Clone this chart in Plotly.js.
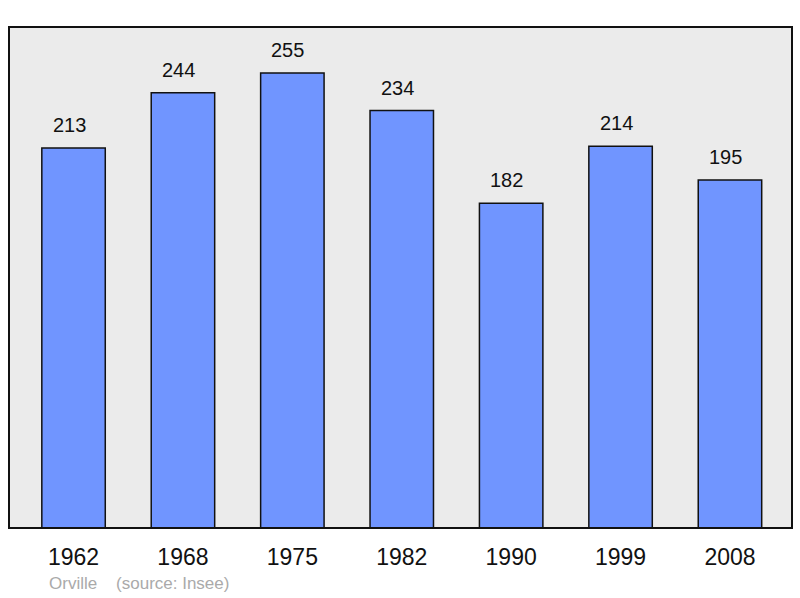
<!DOCTYPE html>
<html>
<head>
<meta charset="utf-8">
<script src="https://cdn.plot.ly/plotly-3.0.1.min.js"></script>
<style>html,body{margin:0;padding:0;background:#fff;}#chart{width:800px;height:598px;}</style>
</head>
<body>
<div id="chart"></div>
<script>
const years = ["1962", "1968", "1975", "1982", "1990", "1999", "2008"];
const population = [213, 244, 255, 234, 182, 214, 195];
const footerText = "Orville &nbsp;&nbsp; (source: Insee)";

const fontFam = "Liberation Sans, Arial, sans-serif";
const idx = years.map((_, i) => i);

const trace = {
  type: 'bar',
  x: idx,
  y: population,
  width: 0.58,
  marker: {color: '#7095ff', line: {color: '#111', width: 1.5}},
  hoverinfo: 'none'
};

const annotations = idx.map(i => ({
  x: i, y: population[i], xref: 'x', yref: 'y',
  text: String(population[i]), showarrow: false,
  yanchor: 'bottom', yshift: 10, xshift: -4.5,
  font: {family: fontFam, size: 20, color: '#111'}
}));
annotations.push({
  xref: 'paper', yref: 'paper', x: 0.048, y: -0.11,
  xanchor: 'left', yanchor: 'middle', showarrow: false,
  text: footerText,
  font: {family: fontFam, size: 17, color: '#aaaaaa'}
});

const layout = {
  width: 800, height: 598,
  margin: {l: 9, r: 8, t: 27, b: 70},
  paper_bgcolor: '#ffffff',
  plot_bgcolor: '#ebebeb',
  showlegend: false,
  font: {family: fontFam},
  xaxis: {
    type: 'linear',
    range: [-0.59, 6.567],
    tickmode: 'array', tickvals: idx, ticktext: years,
    showgrid: false, zeroline: false, showline: false,
    ticks: 'outside', ticklen: 8, tickcolor: 'rgba(0,0,0,0)',
    tickfont: {family: fontFam, size: 23, color: '#111'},
    fixedrange: true
  },
  yaxis: {
    range: [0, 280.8],
    showgrid: false, zeroline: false, showline: false,
    showticklabels: false, ticks: '',
    fixedrange: true
  },
  shapes: [{
    type: 'rect', xref: 'paper', yref: 'paper',
    x0: 0, x1: 1, y0: 0, y1: 1,
    line: {color: '#111', width: 2}
  }],
  annotations: annotations
};

Plotly.newPlot('chart', [trace], layout, {staticPlot: true, displayModeBar: false});
</script>
</body>
</html>
